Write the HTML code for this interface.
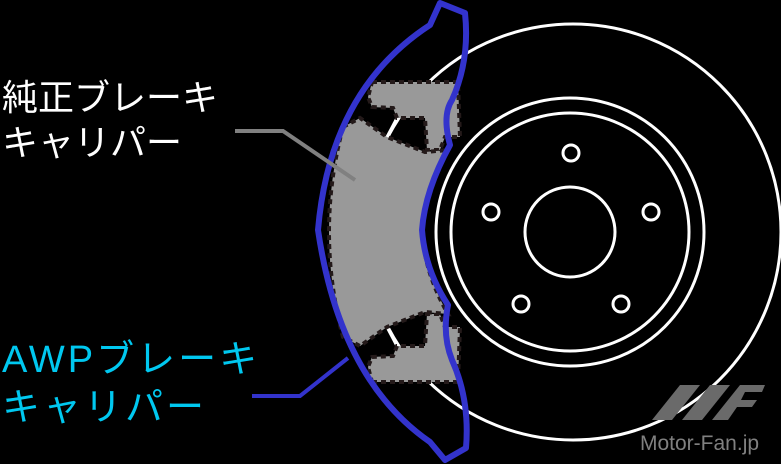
<!DOCTYPE html>
<html><head><meta charset="utf-8"><style>
html,body{margin:0;padding:0;background:#000;}
svg{display:block}
text{font-family:"Liberation Sans","Noto Sans CJK JP",sans-serif;}
</style></head><body>
<svg width="781" height="464" viewBox="0 0 781 464" xmlns="http://www.w3.org/2000/svg">
<rect width="781" height="464" fill="#000"/>
<g fill="none" stroke="#fff" stroke-width="3">
<circle cx="573" cy="232" r="208"/>
<circle cx="570" cy="232" r="134"/>
<circle cx="570" cy="232" r="119"/>
<circle cx="570" cy="232" r="45"/>
<circle cx="571" cy="153" r="8"/>
<circle cx="491" cy="212" r="8"/>
<circle cx="651" cy="212" r="8"/>
<circle cx="521" cy="304" r="8"/>
<circle cx="621" cy="304" r="8"/>
</g>
<g stroke="#fff" stroke-width="3">
<line x1="387" y1="137" x2="397" y2="118"/>
<line x1="387" y1="327" x2="397" y2="346"/>
</g>
<g fill="#999" stroke="#241a1a" stroke-width="4" stroke-dasharray="5 4">
<path d="M372,82 L458,82 L460,137 L445,137 L440,150 L427,150 L425,118 L397,118 L393,108 L372,107 L368,97 Z"/>
<path d="M372,382 L458,382 L460,327 L445,327 L440,314 L427,314 L425,346 L397,346 L393,356 L372,357 L368,367 Z"/>
<path d="M343,127 L360,118 L387,137 L425,152 L448,150 Q425,190 422,232 Q425,274 448,314 L425,312 L387,327 L360,346 L343,337 Q315,232 343,127 Z"/>
</g>
<path d="M440,3 L465,13 Q470,60 452,100 Q442,115 450,145 Q425,190 422,230 Q425,270 448,305 Q442,335 452,360 Q470,400 466,448 L445,460 L430,442 Q340,380 318,230 Q330,90 430,25 Z" fill="none" stroke="#3333cc" stroke-width="6" stroke-linejoin="round"/>
<polyline points="235,131 283,131 355,180" fill="none" stroke="#808080" stroke-width="4"/>
<polyline points="252,396 300,396 348,358" fill="none" stroke="#3333cc" stroke-width="4"/>
<text x="2" y="110" font-size="36" fill="#fff">純正ブレーキ</text>
<text x="2" y="155" font-size="36" fill="#fff">キャリパー</text>
<text x="2" y="372" font-size="38" fill="#00c8f0" letter-spacing="3">AWPブレーキ</text>
<text x="2" y="420" font-size="38" fill="#00c8f0" letter-spacing="3">キャリパー</text>
<g fill="#6a6a6a">
<polygon points="652,420 680,385 700,385 672,420"/>
<polygon points="682,420 710,385 730,385 702,420"/>
<polygon points="712,420 740,385 765,385 762,392 745,392 741,400 757,400 752,407 737,407 728,420"/>
</g>
<text x="640" y="450" font-size="21" fill="#808080">Motor-Fan.jp</text>
</svg>
</body></html>
